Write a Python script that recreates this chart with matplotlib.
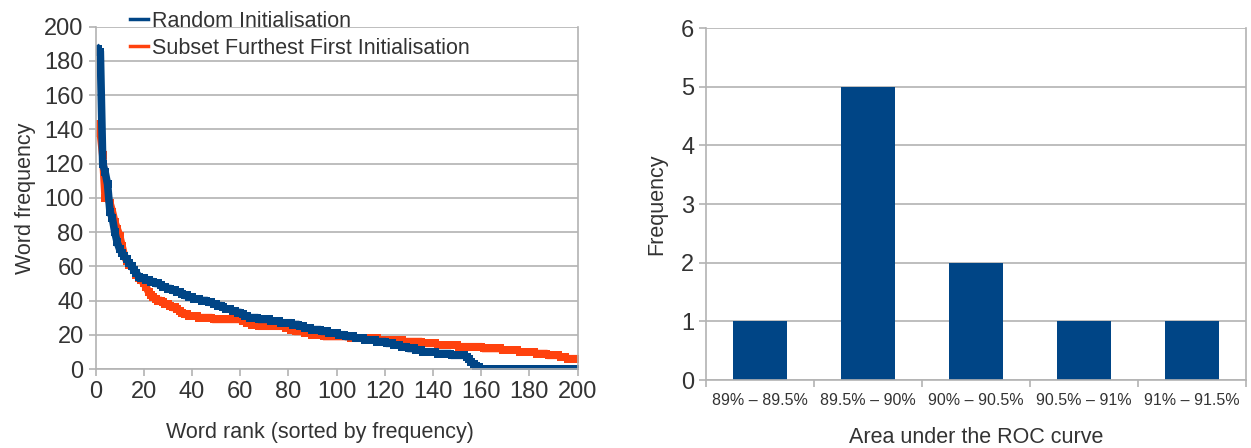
import matplotlib
matplotlib.use('Agg')
import matplotlib.pyplot as plt
from matplotlib.lines import Line2D

plt.rcParams['font.family'] = ['Liberation Sans', 'DejaVu Sans']

# left chart: word frequency by rank
ranks = list(range(1, 201))
random_init = [
    187, 185, 120, 115, 108, 92, 88, 80, 74, 70,
    68, 66, 64, 62, 60, 58, 56, 54, 53, 53,
    52, 52, 51, 51, 50, 50, 49, 48, 48, 47,
    47, 46, 46, 45, 45, 44, 43, 43, 42, 42,
    41, 41, 41, 40, 40, 40, 39, 39, 38, 38,
    37, 37, 36, 35, 35, 35, 34, 34, 33, 33,
    32, 31, 31, 30, 30, 30, 30, 29, 29, 29,
    29, 29, 28, 28, 28, 28, 27, 27, 27, 27,
    27, 26, 26, 26, 25, 25, 24, 24, 24, 23,
    23, 23, 23, 22, 22, 22, 21, 21, 21, 21,
    20, 20, 20, 19, 19, 19, 19, 18, 18, 18,
    18, 17, 17, 17, 17, 17, 16, 16, 16, 16,
    15, 15, 15, 14, 14, 14, 13, 13, 13, 12,
    12, 12, 11, 11, 11, 10, 10, 10, 10, 10,
    10, 9, 9, 9, 9, 9, 9, 8, 8, 8,
    8, 8, 8, 7, 6, 4, 3, 2, 1, 0,
    0, 0, 0, 0, 0, 0, 0, 0, 0, 0,
    0, 0, 0, 0, 0, 0, 0, 0, 0, 0,
    0, 0, 0, 0, 0, 0, 0, 0, 0, 0,
    0, 0, 0, 0, 0, 0, 0, 0, 0, 0,
]
sff_init = [
    143, 138, 125, 100, 100, 97, 92, 86, 82, 78,
    72, 66, 63, 61, 60, 58, 55, 53, 52, 50,
    48, 45, 43, 42, 41, 40, 40, 39, 38, 38,
    37, 36, 36, 35, 34, 33, 32, 32, 31, 31,
    31, 31, 30, 30, 30, 30, 30, 30, 29, 29,
    29, 29, 29, 29, 29, 29, 29, 29, 29, 29,
    28, 28, 27, 27, 26, 26, 26, 25, 25, 25,
    25, 25, 25, 25, 25, 25, 25, 25, 24, 24,
    23, 23, 22, 22, 22, 22, 21, 21, 21, 20,
    20, 20, 20, 20, 19, 19, 19, 19, 19, 19,
    19, 19, 19, 19, 19, 18, 18, 18, 18, 18,
    18, 18, 18, 18, 18, 18, 18, 17, 17, 17,
    17, 17, 17, 17, 17, 17, 17, 16, 16, 16,
    16, 16, 16, 16, 16, 15, 15, 15, 15, 15,
    15, 14, 14, 14, 14, 14, 14, 14, 14, 14,
    13, 13, 13, 13, 13, 13, 13, 13, 13, 13,
    12, 12, 12, 12, 12, 12, 12, 12, 11, 11,
    11, 11, 11, 11, 11, 10, 10, 10, 10, 10,
    10, 10, 9, 9, 9, 9, 9, 8, 8, 8,
    8, 8, 7, 7, 7, 6, 6, 6, 6, 6,
]

# right chart: AUC histogram
auc_bins = ['89% – 89.5%', '89.5% – 90%', '90% – 90.5%', '90.5% – 91%', '91% – 91.5%']
auc_counts = [1, 5, 2, 1, 1]

BLUE = '#004586'
ORANGE = '#ff420e'
GRID = '#b3b3b3'
TXT = '#333333'

fig = plt.figure(figsize=(12.51, 4.48), dpi=100)
ax1 = fig.add_axes([95.5 / 1251, 1 - 369 / 448, 482 / 1251, 342.3 / 448])
ax2 = fig.add_axes([706 / 1251, 1 - 380 / 448, 540 / 1251, 352 / 448])

for ax in (ax1, ax2):
    ax.set_axisbelow(True)
    ax.grid(axis='y', color=GRID, lw=1.2)
    for s in ax.spines.values():
        s.set_color(GRID)
        s.set_linewidth(1.2)
    ax.spines['top'].set_visible(False)
    ax.tick_params(colors=GRID, labelcolor=TXT, length=5, width=1.2)

ax1.plot(ranks, sff_init, color=ORANGE, lw=5.5, marker='s', ms=5.5, mew=0,
         solid_joinstyle='miter')
ax1.plot(ranks, random_init, color=BLUE, lw=5.5, marker='s', ms=5.5, mew=0,
         solid_joinstyle='miter')
ax1.set_xlim(0, 200)
ax1.set_ylim(0, 200)
ax1.set_xticks(range(0, 201, 20))
ax1.set_yticks(range(0, 201, 20))
ax1.tick_params(labelsize=17)
ax1.set_xlabel('Word rank (sorted by frequency)', fontsize=15.5, color=TXT)
ax1.xaxis.set_label_coords(0.466, -0.155)
ax1.set_ylabel('Word frequency', fontsize=15.5, color=TXT, labelpad=6)
handles = [Line2D([], [], color=BLUE, lw=2.5), Line2D([], [], color=ORANGE, lw=2.5)]
fig.legend(handles, ['Random Initialisation', 'Subset Furthest First Initialisation'],
           loc='upper left', bbox_to_anchor=(119 / 1251, 1 - 0 / 448), frameon=False,
           fontsize=15.5, handlelength=0.85, handletextpad=0.2, borderpad=0,
           labelspacing=0.27, labelcolor=TXT)

xpos = range(len(auc_bins))
ax2.bar(xpos, auc_counts, width=0.5, color=BLUE)
ax2.set_xlim(-0.5, len(auc_bins) - 0.5)
ax2.set_ylim(0, 6)
ax2.set_yticks(range(0, 7))
ax2.set_xticks([i - 0.5 for i in range(len(auc_bins) + 1)])
ax2.set_xticklabels([])
ax2.set_xticks(list(xpos), minor=True)
ax2.set_xticklabels(auc_bins, minor=True, fontsize=11.5, color=TXT)
ax2.tick_params(axis='x', which='minor', length=0, pad=9)
ax2.tick_params(axis='y', labelsize=17, length=5)
ax2.set_xlabel('Area under the ROC curve', fontsize=15.5, color=TXT, labelpad=14)
ax2.set_ylabel('Frequency', fontsize=15.5, color=TXT, labelpad=10)

fig.savefig('out.png', dpi=100)
